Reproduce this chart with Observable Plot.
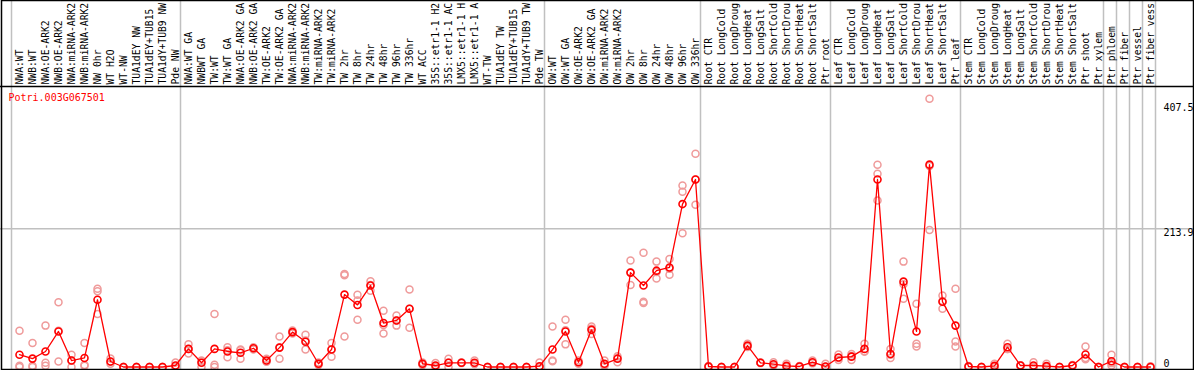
<!DOCTYPE html>
<html>
<head>
<meta charset="utf-8">
<script src="https://cdn.jsdelivr.net/npm/d3@7"></script>
<script src="https://cdn.jsdelivr.net/npm/@observablehq/plot@0.6"></script>
<style>
  html, body { margin: 0; padding: 0; background: #fff; }
  #chart svg { display: block; }
</style>
</head>
<body>
<div id="chart"></div>
<script>
// ---------------- data ----------------
const geneId = "Potri.003G067501";

const labelsNW = ["NWA:WT","NWB:WT","NWA:OE-ARK2","NWB:OE-ARK2","NWA:miRNA-ARK2","NWB:miRNA-ARK2","NW 0hr","WT H2O","WT-NW","TUA1dEY NW","TUA1dEY+TUB15","TUA1dY+TUB9 NW","Pde NW"];
const labelsTW = ["NWA:WT GA","NWBWT GA","TW:WT","TW:WT GA","NWA:OE-ARK2 GA","NWB:OE-ARK2 GA","TW:OE-ARK2","TW:OE-ARK2 GA","NWA:miRNA-ARK2","NWB:miRNA-ARK2","TW:miRNA-ARK2","TW:miRNA-ARK2","TW 2hr","TW 8hr","TW 24hr","TW 48hr","TW 96hr","TW 336hr","WT ACC","35S::etr1-1 H2","35S::etr1-1 AC","LMX5::etr1-1 H","LMX5::etr1-1 A","WT-TW","TUA1dEY TW","TUA1dEY+TUB15","TUA1dY+TUB9 TW","Pde TW"];
const labelsOW = ["OW:WT","OW:WT GA","OW:OE-ARK2","OW:OE-ARK2 GA","OW:miRNA-ARK2","OW:miRNA-ARK2","OW 2hr","OW 8hr","OW 24hr","OW 48hr","OW 96hr","OW 336hr"];
const labelsRoot = ["Root CTR","Root LongCold","Root LongDroug","Root LongHeat","Root LongSalt","Root ShortCold","Root ShortDrou","Root ShortHeat","Root ShortSalt","Ptr root"];
const labelsLeaf = ["Leaf CTR","Leaf LongCold","Leaf LongDroug","Leaf LongHeat","Leaf LongSalt","Leaf ShortCold","Leaf ShortDrou","Leaf ShortHeat","Leaf ShortSalt","Ptr leaf"];
const labelsStem = ["Stem CTR","Stem LongCold","Stem LongDroug","Stem LongHeat","Stem LongSalt","Stem ShortCold","Stem ShortDrou","Stem ShortHeat","Stem ShortSalt","Ptr shoot","Ptr xylem"];
const labelsPtr = ["Ptr phloem","Ptr fiber","Ptr vessel","Ptr fiber vess"];

// group sizes (separator after each group; the last four samples are each separated)
const groups = [labelsNW.length, labelsTW.length, labelsOW.length, labelsRoot.length, labelsLeaf.length, labelsStem.length, 1, 1, 1, 1];

const meansNW = [19, 13, 24, 55, 10, 14, 104, 8.5, 0, 0, 0, 0, 2.3];
const meansTW = [28, 6.5, 28, 24, 22, 29, 10, 30, 54, 39, 5, 27, 112, 96, 126, 68, 72, 90, 5, 2.3, 6.5, 6.5, 6.5, 0, 0, 0, 0, 1.2];
const meansOW = [27, 55, 7.4, 57.5, 5, 12.7, 146, 126, 149, 154, 252, 290];
const meansRoot = [0.8, 0, 0, 33, 6.5, 4.3, 1.8, 0.8, 7.4, 0.8];
const meansLeaf = [14.7, 16, 28, 290, 20, 132, 55, 313, 101, 64];
const meansStem = [0.8, 0, 1.8, 30.6, 2.3, 2.3, 1.3, 0, 2.3, 19.3, 0];
const meansPtr = [9, 0, 0, 0];

const repsNW = [[56,0,2],[37,0,2],[64,6.5,2],[100,8.5,56],[19,0,10],[37,2,3],[121,117,82],[13,5,8],[0,0,0],[0,0,0],[0,0,0],[0,0,0],[7,0,0]];
const repsTW = [[35,21,28],[10,0,9],[82,3.4,0],[30.6,15,26],[27,12.7,26],[30.6,27,29],[12.7,8,9],[47,12.7,30],[56.5,52,54],[50,27,41],[5,3,7],[37,16,27],[144,142,47],[111.7,73,103],[132.7,118,127],[87,52,65],[79.7,64,72],[120,60.6,90],[3,5,7],[6,0,1],[12.7,0,7],[6.5,6,7],[10,5,4.5],[0,0,0],[0,0,0],[0,0,0],[0,0,0],[7,0,0]];
const repsOW = [[62.6,9,10],[73,35,57],[7.4,5,10],[62.6,51,59],[10,2,3],[7.4,16.7,14],[164.7,127,146],[176.6,101,99],[163,137,147],[167,142.6,152],[280.7,271,207],[329.7,251,290]];
const repsRoot = [[0,1,1.5],[0,0,0],[0,0,0],[36,31,32],[6,7,6.5],[7.4,3,2.5],[5,0,0.5],[0,1,1.5],[10,6,6],[5,0,0]];
const repsLeaf = [[19.3,11,14],[20,11,17],[36,24,24],[313,299,257.5],[28,14,19],[163,105.5,128],[97.7,36,31.7],[415,212,311],[110.6,90,102],[121,39.4,31.7]];
const repsStem = [[0,1,1.5],[0,0,0],[5,0,0.5],[36,28,28],[2.3,2,2.6],[7.4,0,0],[5,0,0],[0,0,0],[2.3,3,1.6],[31.7,14,12],[0,0,0]];
const repsPtr = [[19,2.3,6],[0,0,0],[0,0,0],[1,0,0]];

const yTickValues = [0, 213.9, 407.5];
const yTickLabels = ["0", "213.9", "407.5"];

// ---------------- tables ----------------
const labels = [].concat(labelsNW, labelsTW, labelsOW, labelsRoot, labelsLeaf, labelsStem, labelsPtr);
const means = [].concat(meansNW, meansTW, meansOW, meansRoot, meansLeaf, meansStem, meansPtr);
const reps = [].concat(repsNW, repsTW, repsOW, repsRoot, repsLeaf, repsStem, repsPtr);

const meanRows = means.map((v, i) => ({i, v}));
const repRows = reps.flatMap((r, i) => r.map(v => ({i, v})));

// separator positions (just right of each group's last sample)
const sepOffset = 5 / 13;
const seps = [-1 + sepOffset];
{ let c = -1; for (const n of groups) { c += n; seps.push(c + sepOffset); } }

// ---------------- layout ----------------
const W = 1194, H = 370;
const X0 = 19, DX = 13;        // pixel of first sample, pixel spacing
const Y0 = 366.5, KY = 0.6465; // pixel of zero, pixels per unit
const headerValue = (Y0 - 86) / KY;

const red = "#ff0000";
const pink = "#ef9a9a";

const chart = Plot.plot({
  width: W,
  height: H,
  margin: 0,
  style: {fontFamily: "'DejaVu Sans Mono', monospace", fontSize: "10px", background: "#fff"},
  x: {type: "linear", domain: [-X0 / DX, (W - X0) / DX], axis: null},
  y: {type: "linear", domain: [-(H - Y0) / KY, Y0 / KY], axis: null},
  marks: [
    Plot.ruleX(seps, {x: d => d, stroke: "#c0c0c0", strokeWidth: 1.5}),
    Plot.ruleY([yTickValues[1]], {stroke: "#c0c0c0", strokeWidth: 1.5}),
    Plot.ruleY([headerValue], {stroke: "black", strokeWidth: 1.5}),
    Plot.text(labels, {x: (d, i) => i, frameAnchor: "top", dy: 84, rotate: -90, textAnchor: "start", lineAnchor: "middle", fill: "black", fontSize: 9.7, text: d => d}),
    Plot.text([geneId], {frameAnchor: "top-left", dx: 8, dy: 97, textAnchor: "start", lineAnchor: "middle", fill: red, text: d => d}),
    Plot.text(yTickValues.slice(1), {y: d => d, text: (d, i) => yTickLabels[i + 1], frameAnchor: "right", dx: -31, textAnchor: "start", lineAnchor: "top", fill: "black"}),
    Plot.text(yTickValues.slice(0, 1), {y: d => d, text: (d, i) => yTickLabels[i], frameAnchor: "right", dx: -31, textAnchor: "start", lineAnchor: "bottom", fill: "black"}),
    Plot.dot(repRows, {x: "i", y: "v", r: 3.5, stroke: pink, strokeWidth: 1.5, fill: "none"}),
    Plot.line(meanRows, {x: "i", y: "v", stroke: red, strokeWidth: 1.3}),
    Plot.dot(meanRows, {x: "i", y: "v", r: 3.5, stroke: red, strokeWidth: 1.6, fill: "none"}),
    Plot.frame({stroke: "black", strokeWidth: 1.5, insetLeft: 1, insetRight: 1, insetBottom: 1, insetTop: 0})
  ]
});
document.getElementById("chart").appendChild(chart);
</script>
</body>
</html>
